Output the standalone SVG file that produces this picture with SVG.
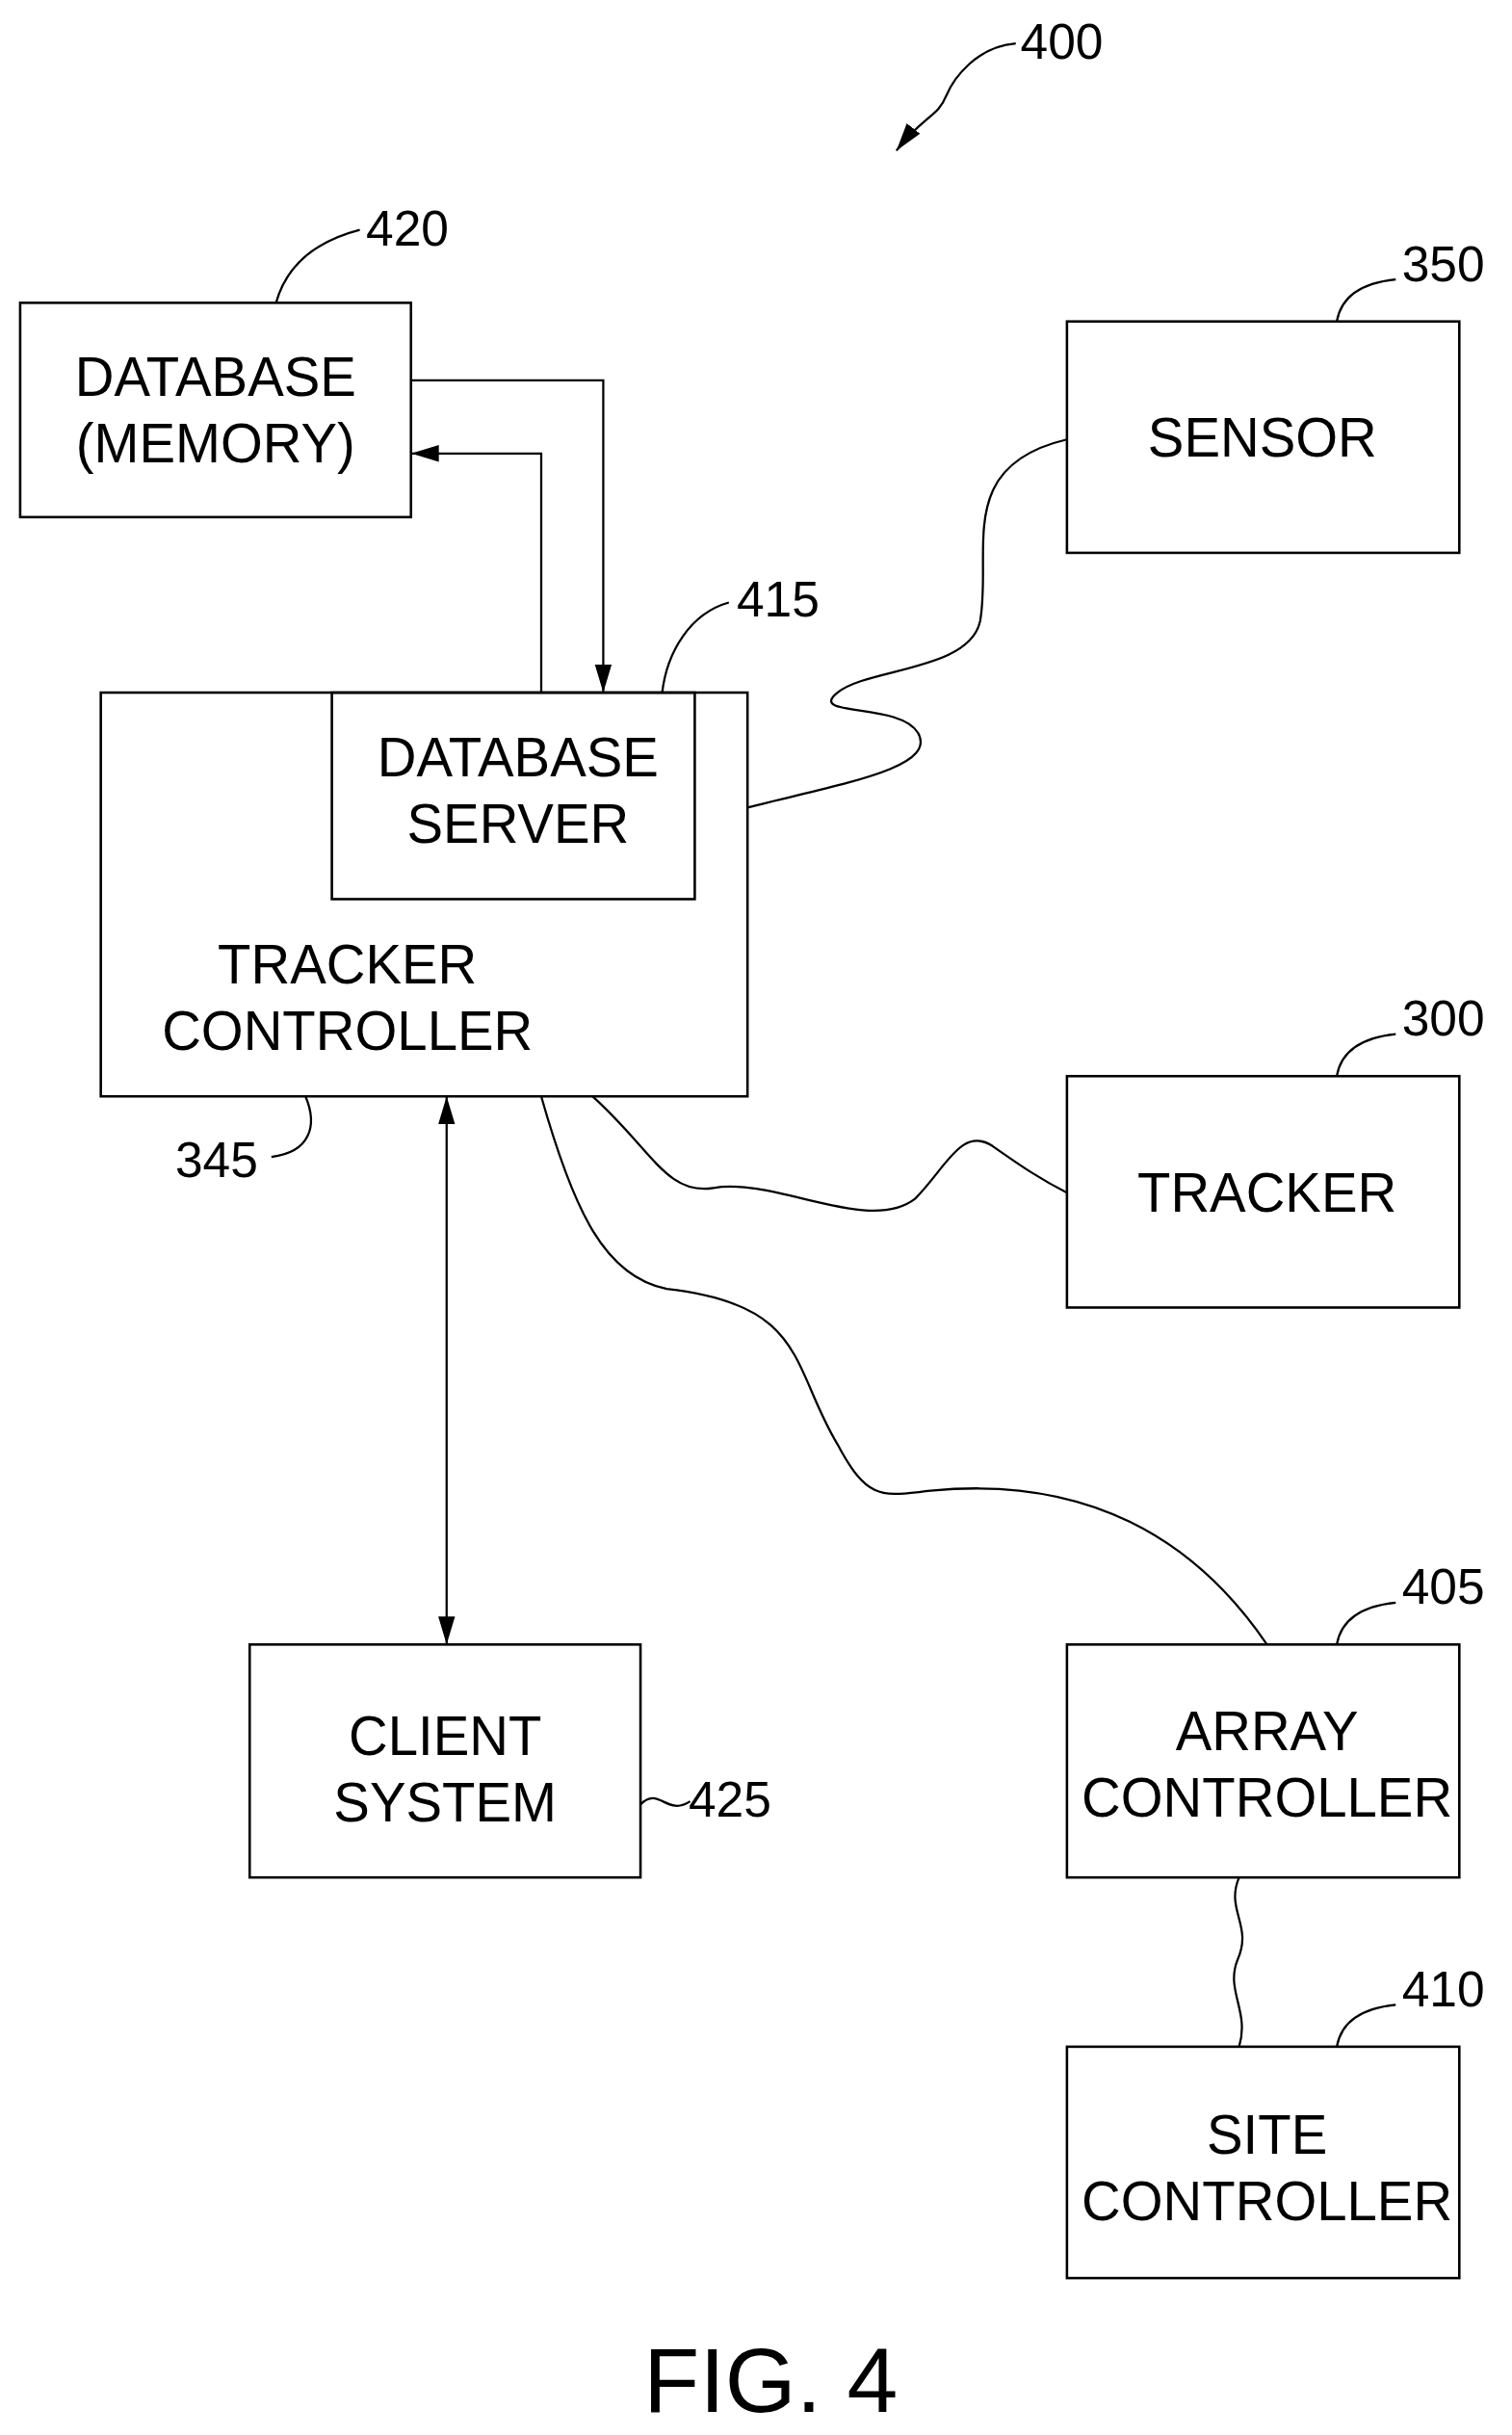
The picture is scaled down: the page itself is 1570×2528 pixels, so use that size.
<svg xmlns="http://www.w3.org/2000/svg" width="1570" height="2528" viewBox="0 0 1570 2528">
<style>
.b{fill:none;stroke:#000;stroke-width:1.6}
.l{fill:none;stroke:#000;stroke-width:1.4}
text{font-family:"Liberation Sans",Arial,sans-serif;font-size:32px;fill:#000}
.c{text-anchor:middle;font-size:35px}
</style>
<defs>
<marker id="a" viewBox="0 0 10 10" refX="10" refY="5" markerWidth="18" markerHeight="18" markerUnits="userSpaceOnUse" orient="auto-start-reverse"><path d="M0,2 L10,5 L0,8 Z" fill="#000"/></marker>
</defs>
<rect width="1570" height="2528" fill="#fff"/>
<g transform="scale(1.6103,1.6122)">
<g id="database"><rect class="b" x="13" y="195" width="252" height="138"/><text class="c" x="139" y="255">DATABASE</text><text class="c" x="139" y="298">(MEMORY)</text></g>
<g id="sensor"><rect class="b" x="688" y="207" width="253" height="149"/><text class="c" x="814" y="294">SENSOR</text></g>
<g id="tracker-controller"><rect class="b" x="65" y="446" width="417" height="260"/><text class="c" x="224" y="633">TRACKER</text><text class="c" x="224" y="676">CONTROLLER</text></g>
<g id="database-server"><rect class="b" x="214" y="446" width="234" height="133"/><text class="c" x="334" y="500">DATABASE</text><text class="c" x="334" y="543">SERVER</text></g>
<g id="tracker"><rect class="b" x="688" y="693" width="253" height="149"/><text class="c" x="817" y="780">TRACKER</text></g>
<g id="client"><rect class="b" x="161" y="1059" width="252" height="150"/><text class="c" x="287" y="1130">CLIENT</text><text class="c" x="287" y="1173">SYSTEM</text></g>
<g id="array"><rect class="b" x="688" y="1059" width="253" height="150"/><text class="c" x="817" y="1127">ARRAY</text><text class="c" x="817" y="1170">CONTROLLER</text></g>
<g id="site"><rect class="b" x="688" y="1318" width="253" height="149"/><text class="c" x="817" y="1387">SITE</text><text class="c" x="817" y="1430">CONTROLLER</text></g>
<g id="connectors">
<path class="l" d="M265,245 H389 V446" marker-end="url(#a)"/>
<path class="l" d="M349,446 V292 H265" marker-end="url(#a)"/>
<path class="l" d="M288,706 V1059" marker-start="url(#a)" marker-end="url(#a)"/>
<path class="l" d="M482,520 C540,505 605,495 592,472 C580,452 520,462 540,446 C560,430 625,432 632,400 C640,355 615,300 688,283"/>
<path class="l" d="M382,706 C420,740 430,770 460,765 C500,758 560,795 590,772 C610,752 620,725 640,738 C660,752 672,760 688,768"/>
<path class="l" d="M349,706 C370,780 390,822 430,830 C520,840 510,880 540,930 C560,968 570,963 600,960 C700,950 770,990 817,1059"/>
<path class="l" d="M799,1209 C790,1230 808,1240 798,1262 C790,1282 806,1295 799,1318"/>
<path class="l" d="M178,195 C185,170 205,155 232,148"/>
<path class="l" d="M427,446 C430,420 445,395 470,388"/>
<path class="l" d="M862,207 C865,190 880,182 900,180"/>
<path class="l" d="M862,693 C865,676 880,668 900,666"/>
<path class="l" d="M862,1059 C865,1042 880,1034 900,1032"/>
<path class="l" d="M862,1318 C865,1301 880,1293 900,1291"/>
<path class="l" d="M197,706 C205,725 200,742 175,745"/>
<path class="l" d="M413,1162 C425,1150 430,1170 445,1160"/>
<path class="l" d="M655,28 C630,30 615,50 610,62 C605,75 595,75 578,97" marker-end="url(#a)"/>
</g>
<text x="236" y="158">420</text>
<text x="475" y="397">415</text>
<text x="904" y="181">350</text>
<text x="904" y="667">300</text>
<text x="904" y="1033">405</text>
<text x="904" y="1292">410</text>
<text x="113" y="758">345</text>
<text x="444" y="1170">425</text>
<text x="658" y="38">400</text>
<text x="497" y="1553" style="font-size:59px;text-anchor:middle">FIG. 4</text>
</g>
</svg>
